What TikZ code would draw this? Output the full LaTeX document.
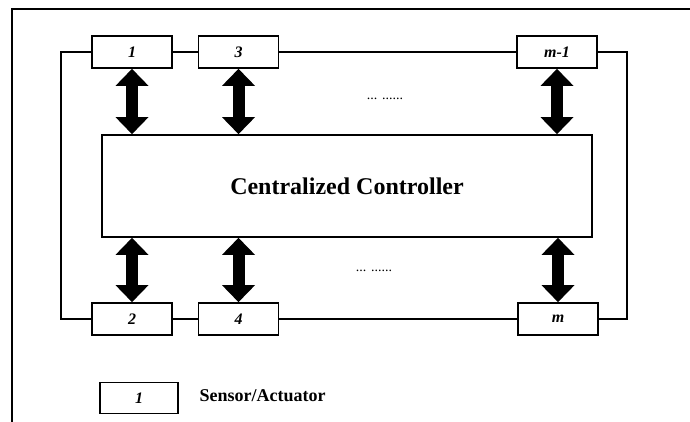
\documentclass[tikz,border=0pt]{standalone}
\usepackage{fontspec}
\setmainfont{Liberation Serif}
\usetikzlibrary{arrows.meta}
\begin{document}
\begin{tikzpicture}[x=1pt,y=-1pt,
unit/.style={draw, fill=white, line width=1.7pt, minimum width=80pt, minimum height=32pt,
  inner sep=0pt, font=\fontsize{16}{16}\selectfont\bfseries\itshape},
bus/.style={line width=1.4pt},
bigtip/.tip={Triangle[width=33pt,length=17pt,line width=0pt]},
dbl/.style={line width=12pt, bigtip-bigtip}
]
\useasboundingbox (0,0) rectangle (690,422);
\draw[bus] (12,422) -- (12,9) -- (690,9);

\node[draw, line width=1.7pt, minimum width=490pt, minimum height=102pt,
  font=\fontsize{24}{24}\selectfont\bfseries] (ctrl) at (347,186) {Centralized Controller};

% sensors / actuators
\node[unit] (s1) at (132,52) {1};
\node[unit] (s3) at (238.5,52) {3};
\node[unit] (sm1) at (557,52) {m-1};
\node[unit] (s2) at (132,319) {2};
\node[unit] (s4) at (238.5,319) {4};
\node[unit] (sm) at (558,319) {m};

\coordinate (lt) at (61,52);
\coordinate (rt) at (627,52);

\draw[bus] (s1.east) -- (s3.west) (s3.east) -- (sm1.west);
\draw[bus] (s2.east) -- (s4.west) (s4.east) -- (sm.west);
\draw[bus] (s1.west) -- (lt) |- (s2.west);
\draw[bus] (sm1.east) -- (rt) |- (sm.east);

\foreach \S in {s1,s3,sm1}
  \draw[dbl] (\S.south) -- (\S.south |- ctrl.north);
\foreach \S in {s2,s4,sm}
  \draw[dbl] (\S.north |- ctrl.south) -- (\S.north);

\node[font=\fontsize{14}{14}\selectfont] (dtop) at (385,99) {... ......};
\node[font=\fontsize{14}{14}\selectfont] (dbot) at (374,271) {... ......};

% legend
\node[unit, minimum width=78pt, minimum height=31pt] (key) at (139,398) {1};
\node[anchor=west, font=\fontsize{18}{18}\selectfont\bfseries] (keytxt) at (196,396) {Sensor/Actuator};
\end{tikzpicture}
\end{document}
